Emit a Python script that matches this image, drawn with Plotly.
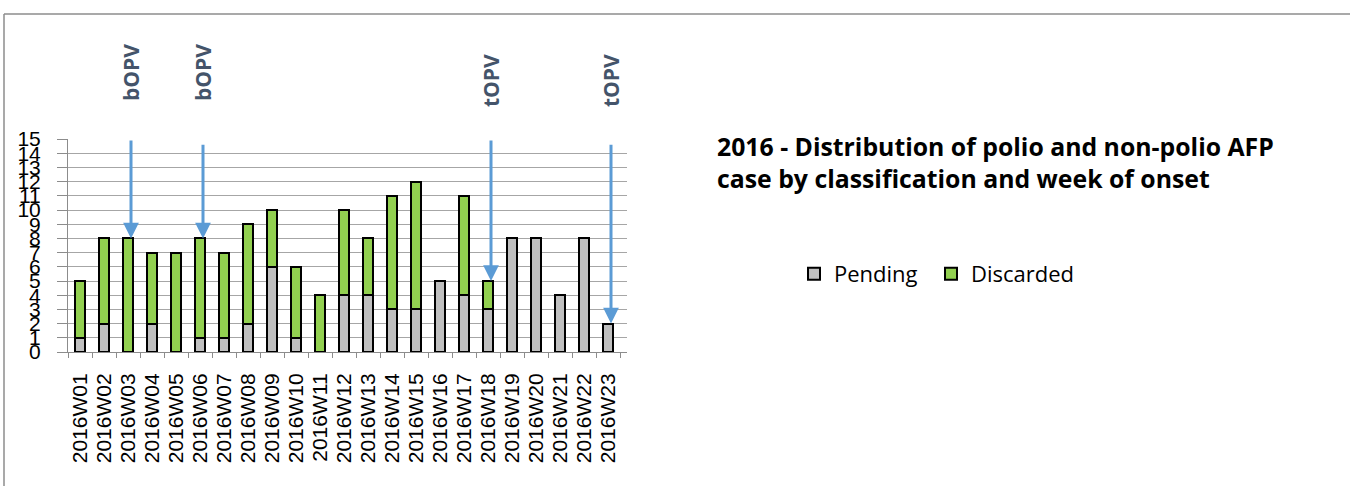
import plotly.graph_objects as go

weeks = ["2016W01", "2016W02", "2016W03", "2016W04", "2016W05", "2016W06", "2016W07",
         "2016W08", "2016W09", "2016W10", "2016W11", "2016W12", "2016W13", "2016W14",
         "2016W15", "2016W16", "2016W17", "2016W18", "2016W19", "2016W20", "2016W21",
         "2016W22", "2016W23"]
pending = [1, 2, 0, 2, 0, 1, 1, 2, 6, 1, 0, 4, 4, 3, 3, 5, 4, 3, 8, 8, 4, 8, 2]
discarded = [4, 6, 8, 5, 7, 7, 6, 7, 4, 5, 4, 6, 4, 8, 9, 0, 7, 2, 0, 0, 0, 0, 0]

vaccine_weeks = ["2016W03", "2016W06", "2016W18", "2016W23"]
vaccine_labels = ["bOPV", "bOPV", "tOPV", "tOPV"]
arrow_start = [15, 14.7, 15, 14.7]

title_text = "2016 - Distribution of polio and non-polio AFP<br>case by classification and week of onset"

W, H = 1350, 486
L, R, T, B = 68, 723, 139, 134
pw, ph = W - L - R, H - T - B

def px_x(p):
    return (p - L) / pw

def px_y(p):
    return (H - B - p) / ph

fig = go.Figure()
fig.add_trace(go.Bar(x=weeks, y=pending, name="Pending", legend="legend",
                     marker=dict(color="#BFBFBF", line=dict(color="black", width=2))))
fig.add_trace(go.Bar(x=weeks, y=discarded, name="Discarded", legend="legend2",
                     marker=dict(color="#92D050", line=dict(color="black", width=2))))

totals = [p + d for p, d in zip(pending, discarded)]
for wk, lab, start in zip(vaccine_weeks, vaccine_labels, arrow_start):
    tip = totals[weeks.index(wk)]
    fig.add_annotation(x=wk, y=tip, xref="x", yref="y", ax=0, ay=start,
                       axref="pixel", ayref="y", showarrow=True, arrowhead=2,
                       arrowwidth=3, arrowsize=1.05, arrowcolor="#5B9BD5",
                       text="", xshift=3)
    fig.add_annotation(x=wk, y=px_y(73 if lab == "bOPV" else 81), xref="x", yref="paper",
                       yanchor="middle", xanchor="center",
                       text="<b>" + lab + "</b>", textangle=-90, showarrow=False,
                       font=dict(family="Open Sans", size=21, color="#44546A"), xshift=3)

fig.add_annotation(x=px_x(715), y=px_y(162), xref="paper", yref="paper",
                   xanchor="left", yanchor="middle", align="left", showarrow=False,
                   text="<b>" + title_text + "</b>",
                   font=dict(family="Open Sans", size=24.8, color="black"))

# outer chart border (top and left)
fig.add_shape(type="line", xref="paper", yref="paper", x0=px_x(4), x1=px_x(1352),
              y0=px_y(14), y1=px_y(14), line=dict(color="#8C8C8C", width=1.5))
fig.add_shape(type="line", xref="paper", yref="paper", x0=px_x(4), x1=px_x(4),
              y0=px_y(14), y1=px_y(490), line=dict(color="#8C8C8C", width=1.5))

legend_font = dict(family="Open Sans", size=22, color="black")
fig.update_layout(
    width=W, height=H, barmode="stack", bargap=0.55,
    margin=dict(l=L, r=R, t=T, b=B, autoexpand=False),
    paper_bgcolor="white", plot_bgcolor="white",
    showlegend=True,
    legend=dict(orientation="h", x=px_x(794), y=px_y(274), xanchor="left", yanchor="middle",
                font=legend_font),
    legend2=dict(orientation="h", x=px_x(931), y=px_y(274), xanchor="left", yanchor="middle",
                 font=legend_font),
    xaxis=dict(type="category", tickmode="linear", tick0=0, dtick=1, tickangle=-90,
               showline=True, linecolor="#8C8C8C",
               ticks="outside", tickson="boundaries", ticklen=5, tickcolor="#8C8C8C",
               tickfont=dict(family="Liberation Sans", size=21, color="black"),
               ticklabelstandoff=12, showgrid=False),
    yaxis=dict(range=[0, 15], tickmode="linear", tick0=0, dtick=1, showline=True,
               linecolor="#8C8C8C", ticks="outside", ticklen=10, tickcolor="#8C8C8C",
               gridcolor="#A6A6A6", gridwidth=1, zeroline=False,
               tickfont=dict(family="Liberation Sans", size=21, color="black"),
               ticklabelstandoff=12),
)

fig.write_html("out.html", config={"displayModeBar": False},
               post_script="document.body.style.margin='0';")
